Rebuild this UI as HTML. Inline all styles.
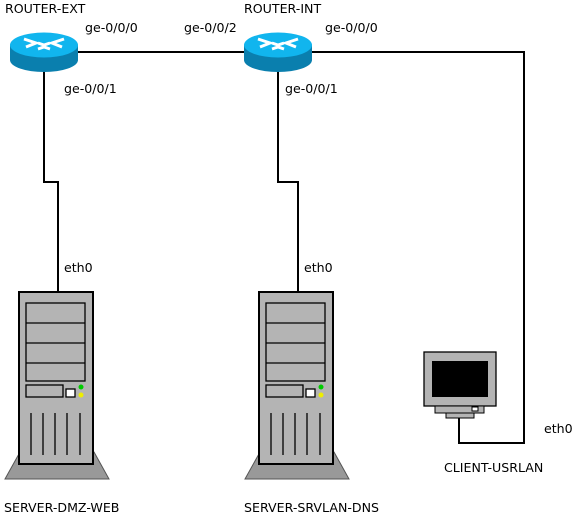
<!DOCTYPE html>
<html><head><style>
body{margin:0;background:#fff;}
svg text{font-family:"DejaVu Sans",sans-serif;font-size:12.6px;fill:#000;}
</style></head><body>
<svg width="574" height="516" xmlns="http://www.w3.org/2000/svg">
<defs>
<g id="router">
  <path d="M-34,0 v15 a34,12 0 0 0 68,0 v-15z" fill="#0a7fae"/>
  <ellipse cx="0" cy="0" rx="34" ry="12.5" fill="#11b5ee"/>
  <path d="M-20,-6 l12,4 -10,4 M20,-6 l-12,4 10,4 M-6,-2 l6,2 6,-2 M-6,4 l6,-2 6,2" stroke="#fff" stroke-width="3" fill="none"/>
</g>
<g id="server">
  <polygon points="1,160 75,160 90,187 -14,187" fill="#999" stroke="#555" stroke-width="1"/>
  <rect x="0" y="0" width="74" height="172" fill="#b4b4b4" stroke="#000" stroke-width="2"/>
  <g stroke="#000" stroke-width="1.3">
  <rect x="7" y="11" width="59" height="78" fill="#b4b4b4"/>
  <line x1="7" y1="31" x2="66" y2="31"/>
  <line x1="7" y1="51" x2="66" y2="51"/>
  <line x1="7" y1="71" x2="66" y2="71"/>
  <rect x="7" y="93" width="37" height="12" fill="#b4b4b4"/>
  <rect x="47" y="97" width="9" height="8" fill="#fff"/>
  <line x1="12" y1="121" x2="12" y2="163"/><line x1="24" y1="121" x2="24" y2="163"/><line x1="36" y1="121" x2="36" y2="163"/><line x1="48" y1="121" x2="48" y2="163"/><line x1="61" y1="121" x2="61" y2="163"/>
  </g>
  <circle cx="62" cy="95" r="2.5" fill="#0c0"/>
  <circle cx="62" cy="103" r="2.5" fill="#ee0"/>
</g>
</defs>
<g stroke="#000" stroke-width="2" fill="none">
  <line x1="78" y1="52" x2="244" y2="52"/>
  <polyline points="312,52 524,52 524,443 459,443 459,418"/>
  <polyline points="44,66 44,182 58,182 58,292"/>
  <polyline points="278,66 278,182 298,182 298,292"/>
</g>
<use href="#router" x="44" y="45"/>
<use href="#router" x="278" y="45"/>
<use href="#server" x="19" y="292"/>
<use href="#server" x="259" y="292"/>
<rect x="424" y="352" width="72" height="54" fill="#b4b4b4" stroke="#000" stroke-width="1.3"/>
<rect x="432" y="361" width="56" height="36" fill="#000"/>
<rect x="435" y="406" width="49" height="7" fill="#b4b4b4" stroke="#000"/>
<rect x="472" y="407" width="6" height="4" fill="#fff" stroke="#000"/>
<rect x="446" y="413" width="28" height="5" fill="#b4b4b4" stroke="#000"/>
<text x="5" y="13">ROUTER-EXT</text>
<text x="85" y="32">ge-0/0/0</text>
<text x="64" y="93">ge-0/0/1</text>
<text x="64" y="272">eth0</text>
<text x="4" y="512">SERVER-DMZ-WEB</text>
<text x="244" y="13">ROUTER-INT</text>
<text x="184" y="32">ge-0/0/2</text>
<text x="325" y="32">ge-0/0/0</text>
<text x="285" y="93">ge-0/0/1</text>
<text x="304" y="272">eth0</text>
<text x="244" y="512">SERVER-SRVLAN-DNS</text>
<text x="444" y="472">CLIENT-USRLAN</text>
<text x="544" y="433">eth0</text>
</svg>
</body></html>
